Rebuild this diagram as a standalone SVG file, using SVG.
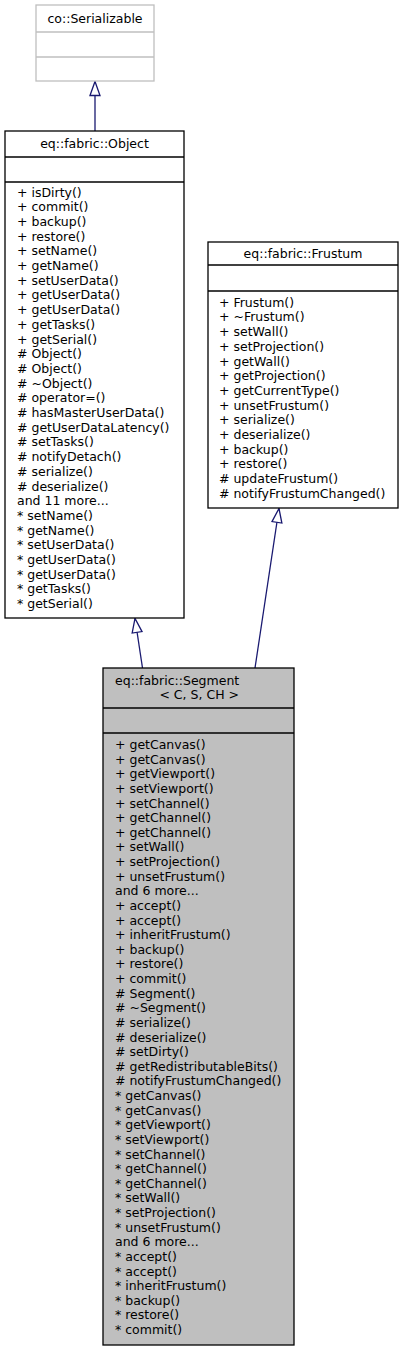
<svg xmlns="http://www.w3.org/2000/svg" width="404" height="1352" viewBox="0 0 404 1352">
<style>
text{font-family:"DejaVu Sans","Liberation Sans",sans-serif;font-size:12.5px;fill:#000}
.box{fill:#fff;stroke:#000;stroke-width:1.3}
.gray{fill:#fff;stroke:#bfbfbf;stroke-width:1.3}
.seg{fill:#bfbfbf;stroke:#000;stroke-width:1.3}
.div{stroke:#000;stroke-width:1.3}
.gdiv{stroke:#bfbfbf;stroke-width:1.3}
.mid{text-anchor:middle}
.edge{fill:none;stroke:#191970;stroke-width:1.3;marker-end:url(#tri)}
</style>
<defs>
<marker id="tri" markerUnits="userSpaceOnUse" markerWidth="18" markerHeight="14" refX="15" refY="6" orient="auto">
<path d="M1,1 L15,6 L1,11 Z" fill="#fff" stroke="#191970" stroke-width="1.3"/>
</marker>
</defs>
<g id="connectors">
<path class="edge" d="M95,131 L95,81.5"/>
<path class="edge" d="M142.5,668 L135,618.5"/>
<path class="edge" d="M255,668 L279,508.5"/>
</g>
<g id="serializable">
<rect class="gray" x="36" y="5" width="118" height="76"/>
<line class="gdiv" x1="36" y1="32" x2="154" y2="32"/>
<line class="gdiv" x1="36" y1="57" x2="154" y2="57"/>
<text class="mid" x="95" y="23">co::Serializable</text>
</g>
<g id="object">
<rect class="box" x="5" y="131" width="179" height="487"/>
<line class="div" x1="5" y1="157" x2="184" y2="157"/>
<line class="div" x1="5" y1="182" x2="184" y2="182"/>
<text class="mid" x="94.5" y="148">eq::fabric::Object</text>
<text x="17" y="196.5"><tspan x="17" dy="0">+ isDirty()</tspan><tspan x="17" dy="14.7">+ commit()</tspan><tspan x="17" dy="14.7">+ backup()</tspan><tspan x="17" dy="14.7">+ restore()</tspan><tspan x="17" dy="14.7">+ setName()</tspan><tspan x="17" dy="14.7">+ getName()</tspan><tspan x="17" dy="14.7">+ setUserData()</tspan><tspan x="17" dy="14.7">+ getUserData()</tspan><tspan x="17" dy="14.7">+ getUserData()</tspan><tspan x="17" dy="14.7">+ getTasks()</tspan><tspan x="17" dy="14.7">+ getSerial()</tspan><tspan x="17" dy="14.7"># Object()</tspan><tspan x="17" dy="14.7"># Object()</tspan><tspan x="17" dy="14.7"># ~Object()</tspan><tspan x="17" dy="14.7"># operator=()</tspan><tspan x="17" dy="14.7"># hasMasterUserData()</tspan><tspan x="17" dy="14.7"># getUserDataLatency()</tspan><tspan x="17" dy="14.7"># setTasks()</tspan><tspan x="17" dy="14.7"># notifyDetach()</tspan><tspan x="17" dy="14.7"># serialize()</tspan><tspan x="17" dy="14.7"># deserialize()</tspan><tspan x="17" dy="14.7">and 11 more...</tspan><tspan x="17" dy="14.7">* setName()</tspan><tspan x="17" dy="14.7">* getName()</tspan><tspan x="17" dy="14.7">* setUserData()</tspan><tspan x="17" dy="14.7">* getUserData()</tspan><tspan x="17" dy="14.7">* getUserData()</tspan><tspan x="17" dy="14.7">* getTasks()</tspan><tspan x="17" dy="14.7">* getSerial()</tspan></text>
</g>
<g id="frustum">
<rect class="box" x="208" y="242" width="190" height="266"/>
<line class="div" x1="208" y1="265" x2="398" y2="265"/>
<line class="div" x1="208" y1="291" x2="398" y2="291"/>
<text class="mid" x="303" y="258">eq::fabric::Frustum</text>
<text x="219" y="306.7"><tspan x="219" dy="0">+ Frustum()</tspan><tspan x="219" dy="14.7">+ ~Frustum()</tspan><tspan x="219" dy="14.7">+ setWall()</tspan><tspan x="219" dy="14.7">+ setProjection()</tspan><tspan x="219" dy="14.7">+ getWall()</tspan><tspan x="219" dy="14.7">+ getProjection()</tspan><tspan x="219" dy="14.7">+ getCurrentType()</tspan><tspan x="219" dy="14.7">+ unsetFrustum()</tspan><tspan x="219" dy="14.7">+ serialize()</tspan><tspan x="219" dy="14.7">+ deserialize()</tspan><tspan x="219" dy="14.7">+ backup()</tspan><tspan x="219" dy="14.7">+ restore()</tspan><tspan x="219" dy="14.7"># updateFrustum()</tspan><tspan x="219" dy="14.7"># notifyFrustumChanged()</tspan></text>
</g>
<g id="segment">
<rect class="seg" x="103" y="668" width="191" height="677"/>
<line class="div" x1="103" y1="708" x2="294" y2="708"/>
<line class="div" x1="103" y1="733" x2="294" y2="733"/>
<text x="115" y="684.5">eq::fabric::Segment</text>
<text x="239" y="698.5" text-anchor="end">&lt; C, S, CH &gt;</text>
<text x="115" y="749"><tspan x="115" dy="0">+ getCanvas()</tspan><tspan x="115" dy="14.625">+ getCanvas()</tspan><tspan x="115" dy="14.625">+ getViewport()</tspan><tspan x="115" dy="14.625">+ setViewport()</tspan><tspan x="115" dy="14.625">+ setChannel()</tspan><tspan x="115" dy="14.625">+ getChannel()</tspan><tspan x="115" dy="14.625">+ getChannel()</tspan><tspan x="115" dy="14.625">+ setWall()</tspan><tspan x="115" dy="14.625">+ setProjection()</tspan><tspan x="115" dy="14.625">+ unsetFrustum()</tspan><tspan x="115" dy="14.625">and 6 more...</tspan><tspan x="115" dy="14.625">+ accept()</tspan><tspan x="115" dy="14.625">+ accept()</tspan><tspan x="115" dy="14.625">+ inheritFrustum()</tspan><tspan x="115" dy="14.625">+ backup()</tspan><tspan x="115" dy="14.625">+ restore()</tspan><tspan x="115" dy="14.625">+ commit()</tspan><tspan x="115" dy="14.625"># Segment()</tspan><tspan x="115" dy="14.625"># ~Segment()</tspan><tspan x="115" dy="14.625"># serialize()</tspan><tspan x="115" dy="14.625"># deserialize()</tspan><tspan x="115" dy="14.625"># setDirty()</tspan><tspan x="115" dy="14.625"># getRedistributableBits()</tspan><tspan x="115" dy="14.625"># notifyFrustumChanged()</tspan><tspan x="115" dy="14.625">* getCanvas()</tspan><tspan x="115" dy="14.625">* getCanvas()</tspan><tspan x="115" dy="14.625">* getViewport()</tspan><tspan x="115" dy="14.625">* setViewport()</tspan><tspan x="115" dy="14.625">* setChannel()</tspan><tspan x="115" dy="14.625">* getChannel()</tspan><tspan x="115" dy="14.625">* getChannel()</tspan><tspan x="115" dy="14.625">* setWall()</tspan><tspan x="115" dy="14.625">* setProjection()</tspan><tspan x="115" dy="14.625">* unsetFrustum()</tspan><tspan x="115" dy="14.625">and 6 more...</tspan><tspan x="115" dy="14.625">* accept()</tspan><tspan x="115" dy="14.625">* accept()</tspan><tspan x="115" dy="14.625">* inheritFrustum()</tspan><tspan x="115" dy="14.625">* backup()</tspan><tspan x="115" dy="14.625">* restore()</tspan><tspan x="115" dy="14.625">* commit()</tspan></text>
</g>
</svg>
